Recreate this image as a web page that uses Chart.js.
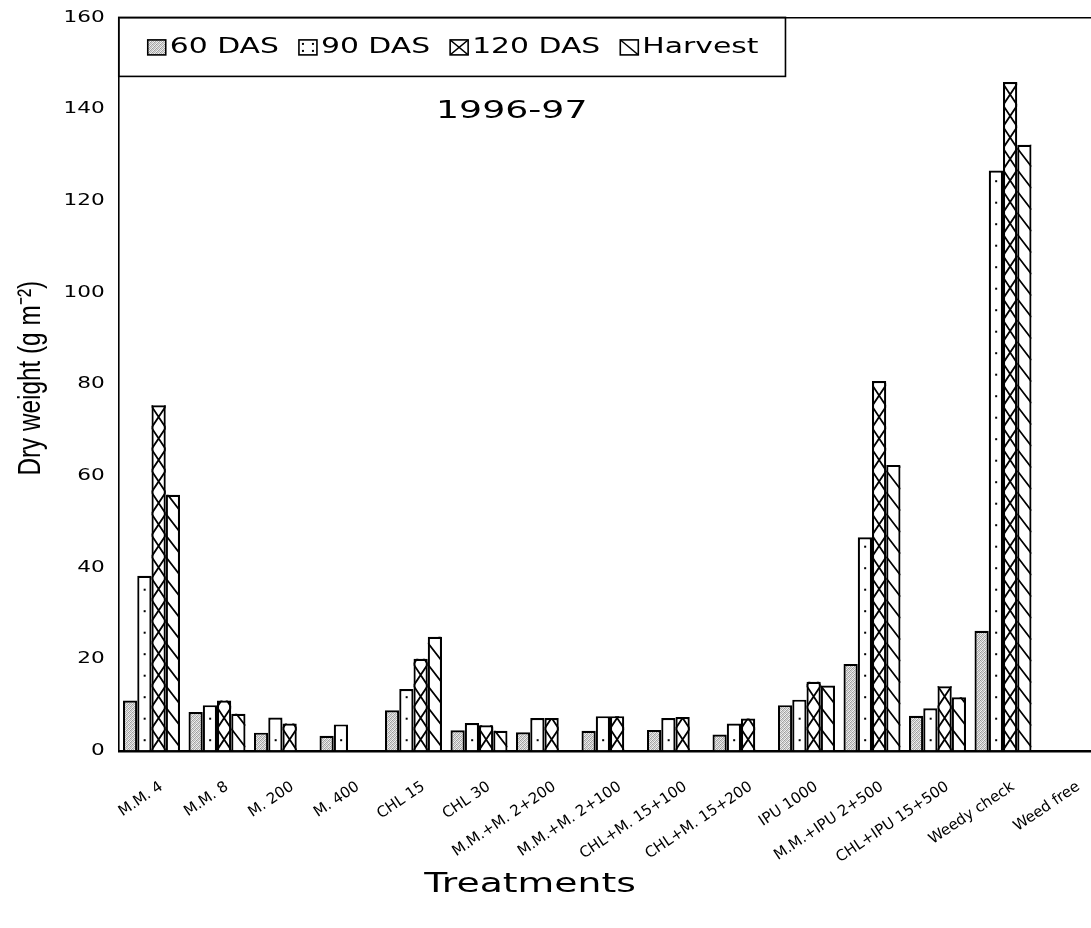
<!DOCTYPE html>
<html>
<head>
<meta charset="utf-8">
<script src="https://cdn.jsdelivr.net/npm/chart.js@4.4.1/dist/chart.umd.min.js"></script>
<style>
  html, body { margin: 0; padding: 0; background: #fff; overflow: hidden; }
  #wrap { position: relative; width: 1120px; height: 928px; }
</style>
</head>
<body>
<div id="wrap"><canvas id="c"></canvas></div>
<script>
// Weed dry weight (g m-2) by treatment, season 1996-97
const categories = [
  'M.M. 4', 'M.M. 8', 'M. 200', 'M. 400', 'CHL 15', 'CHL 30',
  'M.M.+M. 2+200', 'M.M.+M. 2+100', 'CHL+M. 15+100', 'CHL+M. 15+200',
  'IPU 1000', 'M.M.+IPU 2+500', 'CHL+IPU 15+500', 'Weedy check', 'Weed free'
];
const seriesNames = ['60 DAS', '90 DAS', '120 DAS', 'Harvest'];
const das60   = [11.0, 8.5, 4.0, 3.3, 8.9, 4.5, 4.1, 4.4, 4.6, 3.6, 10.0, 19.0, 7.7, 26.2, 0];
const das90   = [38.2, 10.0, 7.3, 5.8, 13.5, 6.1, 7.2, 7.6, 7.2, 6.0, 11.2, 46.6, 9.3, 126.6, 0];
const das120  = [75.4, 11.0, 6.0, 0, 20.1, 5.6, 7.2, 7.6, 7.4, 7.1, 15.1, 80.7, 14.1, 145.9, 0];
const harvest = [55.9, 8.1, 0, 0, 24.9, 4.4, 0, 0, 0, 0, 14.3, 62.4, 11.7, 132.2, 0];
const yTickValues = [0, 20, 40, 60, 80, 100, 120, 140, 160];
const seasonLabel = '1996-97';
const yTitle = 'Dry weight (g m\u207B\u00B2)';
const xTitle = 'Treatments';

const canvas = document.getElementById('c');
const ctx = canvas.getContext('2d');

// Extended-typeface look for the value-axis numbers: glyphs widened per font size
const STRETCH_BY_SIZE = { 16: 1.35 };
(function extendLettering(context) {
  const proto = CanvasRenderingContext2D.prototype;
  const fontDesc = Object.getOwnPropertyDescriptor(proto, 'font');
  const stretchOf = c => {
    const m = /(\d+(?:\.\d+)?)px/.exec(fontDesc.get.call(c));
    return (m && STRETCH_BY_SIZE[Math.round(parseFloat(m[1]))]) || 1;
  };
  context.fillText = function (text, x, y, maxWidth) {
    const s = stretchOf(this);
    if (s === 1) return maxWidth === undefined ? proto.fillText.call(this, text, x, y) : proto.fillText.call(this, text, x, y, maxWidth);
    this.save();
    this.scale(s, 1);
    proto.fillText.call(this, text, x / s, y);
    this.restore();
  };
  context.measureText = function (text) {
    const m = proto.measureText.call(this, text);
    const s = stretchOf(this);
    if (s === 1) return m;
    return {
      width: m.width * s,
      actualBoundingBoxAscent: m.actualBoundingBoxAscent,
      actualBoundingBoxDescent: m.actualBoundingBoxDescent,
      actualBoundingBoxLeft: m.actualBoundingBoxLeft * s,
      actualBoundingBoxRight: m.actualBoundingBoxRight * s
    };
  };
})(ctx);

// Text drawn with a horizontal stretch (extended sans) or squeeze (narrow sans)
function stretchedText(c, text, x, y, font, stretch, align, angle) {
  c.save();
  c.font = font;
  c.fillStyle = '#000';
  c.textAlign = align;
  c.textBaseline = 'middle';
  c.translate(x, y);
  if (angle) c.rotate(angle);
  c.scale(stretch, 1);
  c.fillText(text, 0, 0);
  const w = c.measureText(text).width * stretch;
  c.restore();
  return w;
}

// Grey stipple tile for the 60 DAS fill
function stippleTile() {
  const shades = [
    [0x98, 0xdc, 0xb4, 0xec],
    [0xe4, 0xac, 0xf2, 0xa6],
    [0xbc, 0xf2, 0x9e, 0xd4],
    [0xf2, 0xa6, 0xdc, 0xb6]
  ];
  const t = document.createElement('canvas');
  t.width = 4; t.height = 4;
  const tc = t.getContext('2d');
  shades.forEach((row, r) => row.forEach((s, col) => {
    tc.fillStyle = `rgb(${s},${s},${s})`;
    tc.fillRect(col, r, 1, 1);
  }));
  return ctx.createPattern(t, 'repeat');
}
const stipple = stippleTile();

// Hatch painters, each clipped to a rectangle (l, t, r, b)
const CELL = 21.5;
const HATCH = {
  stipple() {},
  dots(c, l, t, r, b) {
    const w = r - l;
    for (let yy = b - 11; yy > t + 3; yy -= CELL) c.fillRect(l + w * 0.45, yy, 2, 2);
  },
  cross(c, l, t, r, b) {
    c.beginPath();
    for (let yb = b; yb > t - CELL; yb -= CELL) {
      c.moveTo(l, yb); c.lineTo(r, yb - CELL);
      c.moveTo(l, yb - CELL); c.lineTo(r, yb);
    }
    c.stroke();
  },
  diag(c, l, t, r, b) {
    const w = r - l;
    c.beginPath();
    for (let y0 = b; y0 > t - w * 1.3; y0 -= CELL) {
      c.moveTo(l, y0); c.lineTo(r, y0 + w * 1.3);
    }
    c.stroke();
  }
};

const hatchPlugin = {
  id: 'hatching',
  afterDatasetsDraw(chart) {
    const c = chart.ctx;
    chart.data.datasets.forEach((ds, i) => {
      const meta = chart.getDatasetMeta(i);
      meta.data.forEach(bar => {
        const { x, y, base, width } = bar.getProps(['x', 'y', 'base', 'width'], true);
        if (base - y < 1) return;
        const l = x - width / 2, r = x + width / 2;
        c.save();
        c.beginPath(); c.rect(l, y, width, base - y); c.clip();
        c.strokeStyle = '#000'; c.fillStyle = '#000'; c.lineWidth = 1.8;
        HATCH[ds.hatch](c, l, y, r, base);
        c.restore();
      });
    });
  }
};

function drawSwatch(c, ds, x, y, w, h) {
  c.save();
  c.fillStyle = ds.backgroundColor;
  c.fillRect(x, y, w, h);
  c.beginPath(); c.rect(x, y, w, h); c.clip();
  c.strokeStyle = '#000'; c.fillStyle = '#000'; c.lineWidth = 1.4;
  if (ds.hatch === 'dots') {
    [[3, 3], [w - 5, 3], [3, h - 5], [w - 5, h - 5]].forEach(([dx, dy]) => c.fillRect(x + dx, y + dy, 2, 2));
  } else if (ds.hatch === 'cross') {
    c.beginPath();
    c.moveTo(x, y); c.lineTo(x + w, y + h);
    c.moveTo(x + w, y); c.lineTo(x, y + h);
    c.stroke();
  } else if (ds.hatch === 'diag') {
    c.beginPath(); c.moveTo(x, y); c.lineTo(x + w, y + h); c.stroke();
  }
  c.restore();
  c.save();
  c.strokeStyle = '#000'; c.lineWidth = 1.6;
  c.strokeRect(x, y, w, h);
  c.restore();
}

// Framed key in the top-left corner of the plot
const keyPlugin = {
  id: 'keyBox',
  afterDraw(chart) {
    const c = chart.ctx;
    const area = chart.chartArea;
    const boxH = 59;
    const mid = area.top + boxH / 2 + 1;
    let x = area.left + 29;
    chart.data.datasets.forEach(ds => {
      drawSwatch(c, ds, x, mid - 8, 18, 15);
      const w = stretchedText(c, ds.label, x + 22, mid, '21px "DejaVu Sans"', 1.42, 'left');
      x += 22 + w + 20;
    });
    c.save();
    c.lineWidth = 1.6; c.strokeStyle = '#000';
    c.strokeRect(area.left, area.top, x + 7 - area.left, boxH);
    c.restore();
  }
};

// Season caption, axis titles
const captionPlugin = {
  id: 'captions',
  afterDraw(chart) {
    const c = chart.ctx;
    const xs = chart.scales.x, ys = chart.scales.y;
    stretchedText(c, seasonLabel,
      (xs.getPixelForValue(5) + xs.getPixelForValue(6)) / 2, ys.getPixelForValue(139.5),
      '25px "DejaVu Sans"', 1.45, 'center');
    stretchedText(c, xTitle, xs.getPixelForValue(5.78), xs.bottom - 43,
      '26px "DejaVu Sans"', 1.45, 'center');
    stretchedText(c, yTitle, ys.left + 31, (ys.top + ys.bottom) / 2 - 6,
      '32px "Liberation Sans"', 0.76, 'center', -Math.PI / 2);
  }
};

Chart.defaults.font.family = '"DejaVu Sans"';
Chart.defaults.color = '#000';

const fills = [stipple, '#fff', '#fff', '#fff'];
const hatches = ['stipple', 'dots', 'cross', 'diag'];
const values = [das60, das90, das120, harvest];

new Chart(ctx, {
  type: 'bar',
  data: {
    labels: categories,
    datasets: seriesNames.map((name, i) => ({
      label: name,
      data: values[i],
      hatch: hatches[i],
      backgroundColor: fills[i],
      borderColor: '#000',
      borderWidth: 2.2,
      borderSkipped: 'start',
      categoryPercentage: 0.87,
      barPercentage: 1.0
    }))
  },
  options: {
    responsive: true,
    maintainAspectRatio: false,
    animation: false,
    layout: { padding: { left: 0, top: 17.4, right: 18.75, bottom: 0 } },
    plugins: {
      legend: { display: false },
      title: { display: false },
      tooltip: { enabled: false }
    },
    scales: {
      x: {
        type: 'category',
        offset: true,
        grid: { display: false, drawTicks: false },
        border: { display: true, color: '#000', width: 2.5 },
        ticks: {
          autoSkip: false,
          minRotation: 34,
          maxRotation: 34,
          padding: 27,
          labelOffset: 10,
          font: { size: 15 },
          color: '#000'
        },
        title: { display: false },
        afterFit(scale) { scale.height = 177; }
      },
      y: {
        min: yTickValues[0],
        max: yTickValues[yTickValues.length - 1],
        afterBuildTicks(scale) { scale.ticks = yTickValues.map(v => ({ value: v })); },
        grid: {
          drawTicks: true,
          tickLength: 12,
          tickColor: 'rgba(0,0,0,0)',
          lineWidth: 1.6,
          color: c => (c.tick && c.tick.value === yTickValues[yTickValues.length - 1]) ? '#000' : 'rgba(0,0,0,0)'
        },
        border: { display: true, color: '#000', width: 1.6 },
        ticks: { padding: 2, font: { size: 16 }, color: '#000' },
        title: { display: false },
        afterFit(scale) { scale.width = 118.75; }
      }
    }
  },
  plugins: [hatchPlugin, keyPlugin, captionPlugin]
});
</script>
</body>
</html>
